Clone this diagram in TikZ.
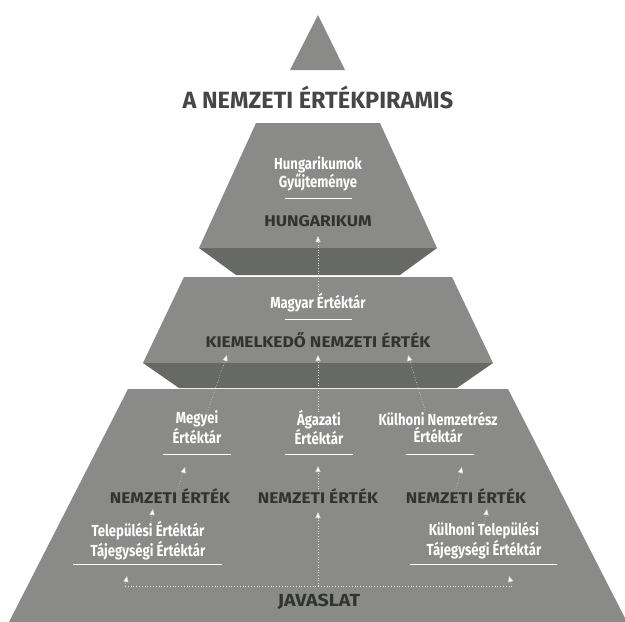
\documentclass[tikz,border=0pt]{standalone}
\usepackage{fontspec}
\setmainfont{Fira Sans}
\newfontfamily\labfont{Fira Sans}[FakeStretch=0.82]
\newfontfamily\catfont{Fira Sans}[FakeStretch=1.12]
\usetikzlibrary{arrows.meta}
\definecolor{face}{RGB}{138,139,136}
\definecolor{band}{RGB}{102,105,100}
\definecolor{cattext}{RGB}{48,52,46}
\definecolor{titletext}{RGB}{70,70,70}
\begin{document}
\begin{tikzpicture}[x=1pt,y=-1pt,
  lab/.style={text=white, font=\labfont\bfseries\fontsize{16}{16.5}\selectfont, align=center, inner sep=0pt},
  cat/.style={text=cattext, font=\catfont\bfseries\fontsize{15.5}{16}\selectfont, inner sep=0pt},
  sepline/.style={draw=white, line width=0.8pt},
  conn/.style={draw=white!75!gray, dotted, line width=0.6pt, -{Triangle[width=5pt,length=6pt,fill=white]}},
  jline/.style={draw=white!75!gray, dotted, line width=0.8pt},
]
\useasboundingbox (0,0) rectangle (625,622);
% shapes
\fill[face] (318,15) -- (345,70) -- (290,70) -- cycle;
\fill[face] (256,123) -- (380,123) -- (437,248) -- (199,248) -- cycle;
\fill[band] (199,248) -- (437,248) -- (400,275) -- (236,275) -- cycle;
\fill[face] (184,277) -- (452,277) -- (493,363) -- (143,363) -- cycle;
\fill[band] (143,363) -- (493,363) -- (457,388) -- (179,388) -- cycle;
\fill[face] (128,389) -- (508,389) -- (627,622) -- (9,622) -- cycle;

% title
\node[text=titletext, font=\bfseries\fontsize{23.5}{25}\selectfont, inner sep=0pt] (title) at (318,97) {A NEMZETI ÉRTÉKPIRAMIS};

% top level
\node[lab] (hung) at (318,173.5) {Hungarikumok\\Gyűjteménye};
\draw[sepline] (285,198) -- (352,198);
\node[cat] (hungarikum) at (318,221) {HUNGARIKUM};

% middle level
\node[lab] (magyar) at (318,303) {Magyar Értéktár};
\draw[sepline] (285,319) -- (352,319);
\node[cat] (kiem) at (318,340) {KIEMELKEDŐ NEMZETI ÉRTÉK};

% bottom level
\node[lab] (megyei) at (197,427.5) {Megyei\\Értéktár};
\node[lab] (agazati) at (319,427.5) {Ágazati\\Értéktár};
\node[lab] (kulhoniN) at (438,427.5) {Külhoni Nemzetrész\\Értéktár};
\draw[sepline] (163,454) -- (231,454);
\draw[sepline] (285,454) -- (353,454);
\draw[sepline] (406,454) -- (474,454);
\node[cat] (nemL) at (170,496) {NEMZETI ÉRTÉK};
\node[cat] (nemC) at (318,496) {NEMZETI ÉRTÉK};
\node[cat] (nemR) at (466,496) {NEMZETI ÉRTÉK};
\node[lab] (telep) at (148,541) {Települési Értéktár\\Tájegységi Értéktár};
\node[lab] (kulhoniT) at (484,541) {Külhoni Települési\\Tájegységi Értéktár};
\draw[sepline] (73,564) -- (222,564);
\draw[sepline] (410,564) -- (557,564);
\node[cat, font=\catfont\bfseries\fontsize{17.5}{18}\selectfont] (javaslat) at (319,601.5) {JAVASLAT};

% connector coordinates
\coordinate (jl) at (125,586);
\coordinate (jc) at (318,586);
\coordinate (jr) at (512,586);
\coordinate (tL1) at (127,576);
\coordinate (tR1) at (509,576);
\coordinate (tC1) at (318,512);
\coordinate (sL2) at (150,527);
\coordinate (tL2) at (153,509);
\coordinate (sR2) at (484,527);
\coordinate (tR2) at (487,509);
\coordinate (sL3) at (178,489);
\coordinate (tL3) at (185,467);
\coordinate (sC3) at (318,489);
\coordinate (tC3) at (318,466);
\coordinate (sR3) at (456,489);
\coordinate (tR3) at (462,467);
\coordinate (sL4) at (208,410);
\coordinate (tL4) at (227,355);
\coordinate (sC4) at (318,412);
\coordinate (tC4) at (318,355);
\coordinate (sR4) at (425,410);
\coordinate (tR4) at (408,355);
\coordinate (sC5) at (318,292);
\coordinate (tC5) at (318,236);

\draw[jline] (jl) -- (jr);
\draw[conn] (jl) -- (tL1);
\draw[conn] (jr) -- (tR1);
\draw[conn] (jc) -- (tC1);
\draw[conn] (sL2) -- (tL2);
\draw[conn] (sR2) -- (tR2);
\draw[conn] (sL3) -- (tL3);
\draw[conn] (sC3) -- (tC3);
\draw[conn] (sR3) -- (tR3);
\draw[conn] (sL4) -- (tL4);
\draw[conn] (sC4) -- (tC4);
\draw[conn] (sR4) -- (tR4);
\draw[conn] (sC5) -- (tC5);
\end{tikzpicture}
\end{document}
